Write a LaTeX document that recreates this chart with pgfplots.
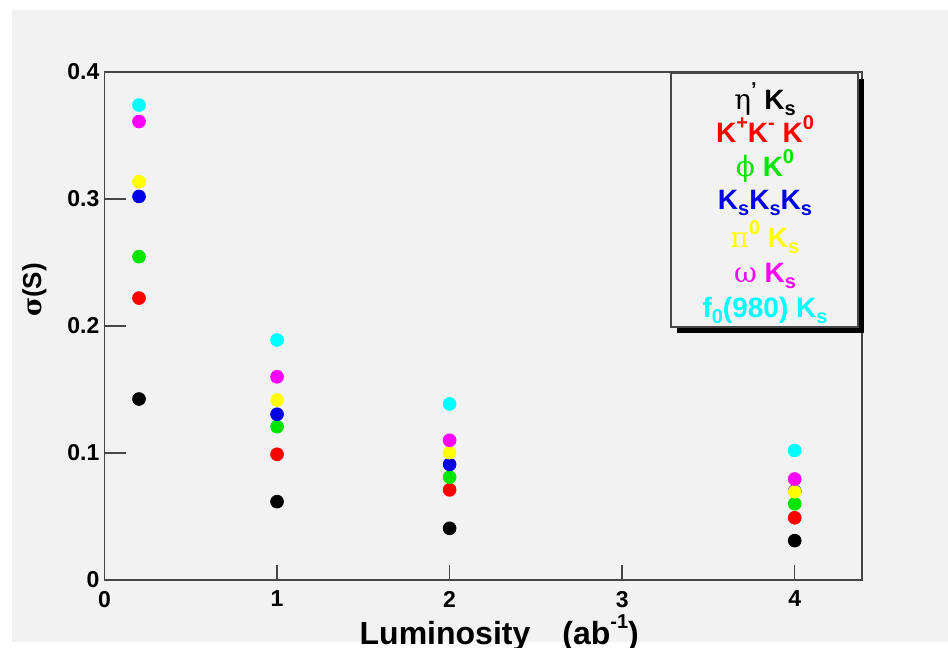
\documentclass[border=0pt]{standalone}
\usepackage{pgfplots}
\pgfplotsset{compat=1.18}
\usepackage{fontspec}
\setmainfont{Liberation Sans}
\newfontfamily\greek{DejaVu Serif}
\definecolor{bgc}{RGB}{242,242,242}
\definecolor{axc}{RGB}{70,70,70}
\definecolor{cred}{RGB}{255,0,0}
\definecolor{cgreen}{RGB}{0,230,0}
\definecolor{cblue}{RGB}{0,0,230}
\definecolor{cyellow}{RGB}{255,255,0}
\definecolor{cmag}{RGB}{255,0,255}
\definecolor{ccyan}{RGB}{0,255,255}
\newcommand{\sbs}[1]{\raisebox{-0.4ex}{\fontsize{10}{10}\selectfont #1}}
\newcommand{\sps}[1]{\raisebox{0.9ex}{\fontsize{10}{10}\selectfont #1}}
\begin{document}
\begin{tikzpicture}
\fill[white] (-52.25pt,-34pt) rectangle (421.75pt,290pt);
\fill[bgc] (-46.25pt,-31pt) rectangle (421.75pt,285pt);
\begin{axis}[
  scale only axis,
  width=378.75pt, height=254pt,
  xmin=0, xmax=4.39, ymin=0, ymax=0.4,
  axis line style={axc, line width=0.8pt},
  xtick={0,1,2,3,4}, ytick={0,0.1,0.2,0.3,0.4},
  tick align=inside,
  xtick pos=bottom, ytick pos=left,
  major tick length=11pt,
  tick style={axc, line width=0.7pt},
  xtick style={/pgfplots/major tick length=7.5pt},
  /pgf/number format/assume math mode=true,
  ticklabel style={font=\bfseries\fontsize{11.5}{12}\selectfont},
  yticklabel style={xshift=1pt},
  xticklabel style={yshift=-2pt},
  xlabel={Luminosity\quad(ab\sps{-1})},
  xlabel style={font=\bfseries\fontsize{16}{18}\selectfont, at={(axis description cs:0.5,0)}, anchor=center, yshift=-26.5pt, xshift=8pt},
  ylabel={{\greek σ}(S)},
  ylabel style={font=\bfseries\fontsize{13}{14}\selectfont, at={(axis description cs:-0.0924,0.571)}, anchor=center},
  clip=false,
]
\addplot[only marks, mark=*, mark size=3.2pt, color=black] coordinates {(0.2,0.1425) (1,0.0617) (2,0.0407) (4,0.031)};
\addplot[only marks, mark=*, mark size=3.2pt, color=cred] coordinates {(0.2,0.222) (1,0.099) (2,0.071) (4,0.049)};
\addplot[only marks, mark=*, mark size=3.2pt, color=cgreen] coordinates {(0.2,0.2546) (1,0.1207) (2,0.081) (4,0.060)};
\addplot[only marks, mark=*, mark size=3.2pt, color=cblue] coordinates {(0.2,0.302) (1,0.1305) (2,0.091) (4,0.070)};
\addplot[only marks, mark=*, mark size=3.2pt, color=cyellow] coordinates {(0.2,0.3136) (1,0.1417) (2,0.1003) (4,0.0695)};
\addplot[only marks, mark=*, mark size=3.2pt, color=cmag] coordinates {(0.2,0.361) (1,0.160) (2,0.110) (4,0.0795)};
\addplot[only marks, mark=*, mark size=3.2pt, color=ccyan] coordinates {(0.2,0.374) (1,0.189) (2,0.1386) (4,0.102)};
\end{axis}
% legend box
\fill[black] (286.25pt,123.5pt) rectangle (379.75pt,250.5pt);
\filldraw[fill=bgc, draw=axc, line width=0.6pt] (283.25pt,126.5pt) rectangle (376.75pt,253.5pt);
\begin{scope}[every node/.style={anchor=base, font=\bfseries\fontsize{14}{16}\selectfont, inner sep=0pt}]
\node[text=black] at (330.25pt,235pt) {{\greek\mdseries η}\sps{'} K\sbs{s}};
\node[text=cred] at (330.25pt,218.5pt) {K\sps{+}K\sps{-} K\sps{0}};
\node[text=cgreen] at (330.25pt,201.5pt) {{\greek\mdseries ϕ} K\sps{0}};
\node[text=cblue] at (330.25pt,185pt) {K\sbs{s}K\sbs{s}K\sbs{s}};
\node[text=cyellow] at (330.25pt,166pt) {{\greek\mdseries π}\sps{0} K\sbs{s}};
\node[text=cmag] at (330.25pt,148.5pt) {{\greek\mdseries ω} K\sbs{s}};
\node[text=ccyan] at (330.25pt,131pt) {f\sbs{0}(980) K\sbs{s}};
\end{scope}
\pgfresetboundingbox
\useasboundingbox (-52.25pt,-34pt) rectangle (421.75pt,290pt);
\end{tikzpicture}
\end{document}
